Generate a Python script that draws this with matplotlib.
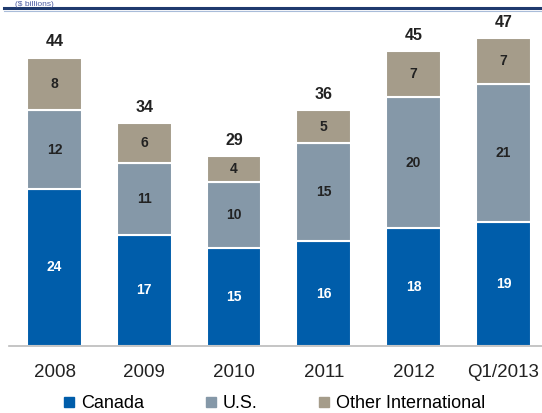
import matplotlib
matplotlib.use("Agg")
import matplotlib.pyplot as plt
from matplotlib.lines import Line2D
import numpy as np

plt.rcParams["font.family"] = ["Liberation Sans", "DejaVu Sans"]

categories = ["2008", "2009", "2010", "2011", "2012", "Q1/2013"]
canada = [24, 17, 15, 16, 18, 19]
us = [12, 11, 10, 15, 20, 21]
other = [8, 6, 4, 5, 7, 7]
totals = [44, 34, 29, 36, 45, 47]
series_names = ["Canada", "U.S.", "Other International"]
colors = ["#005DAA", "#8598A8", "#A59C8A"]

fig = plt.figure(figsize=(5.42, 4.13), dpi=100)
ax = fig.add_axes([9/542, 67/413, 533/542, (346-20)/413])

x = np.arange(len(categories))
w = 0.61
bottom = np.zeros(len(categories))
for vals, col in zip([canada, us, other], colors):
    vals = np.array(vals, dtype=float)
    ax.bar(x, vals, w, bottom=bottom, color=col, edgecolor="white", linewidth=1.5)
    for xi, b, v in zip(x, bottom, vals):
        tc = "white" if col == colors[0] else "#222222"
        ax.text(xi, b + v/2, f"{int(v)}", ha="center", va="center",
                fontsize=10, fontweight="bold", color=tc)
    bottom += vals

for xi, t in zip(x, totals):
    ax.text(xi, t + 1.3, f"{t}", ha="center", va="bottom", fontsize=11.5,
            fontweight="bold", color="#222222")

ax.set_xlim(-0.507, 5.43)
ax.set_ylim(0, 49.8)
ax.set_yticks([])
ax.set_xticks(x)
ax.set_xticklabels(categories, fontsize=13.5, color="#222222")
ax.tick_params(axis="x", length=0, pad=13)
for s in ["top", "right", "left"]:
    ax.spines[s].set_visible(False)
ax.spines["bottom"].set_color("#BBBBBB")
ax.spines["bottom"].set_linewidth(1.2)

# header line and unit text
fig.add_artist(Line2D([4/542, 1], [1-8/413, 1-8/413], color="#1F3A6E", lw=2.2))
fig.add_artist(Line2D([4/542, 1], [1-10.5/413, 1-10.5/413], color="#A9BCD9", lw=0.8))
fig.text(15/542, 1-0.5/413, "($ billions)", fontsize=6, color="#4A5AA0", va="top")

handles = [Line2D([], [], marker="s", linestyle="none", markersize=7.5,
                  markerfacecolor=c, markeredgecolor=c) for c in colors]
fig.legend(handles, series_names, loc="center", bbox_to_anchor=(0.503, 1-404/413),
           ncol=3, frameon=False, fontsize=13, handletextpad=0.15,
           columnspacing=3.2, handlelength=1.0, borderpad=0)

fig.savefig("out.png", dpi=100)
